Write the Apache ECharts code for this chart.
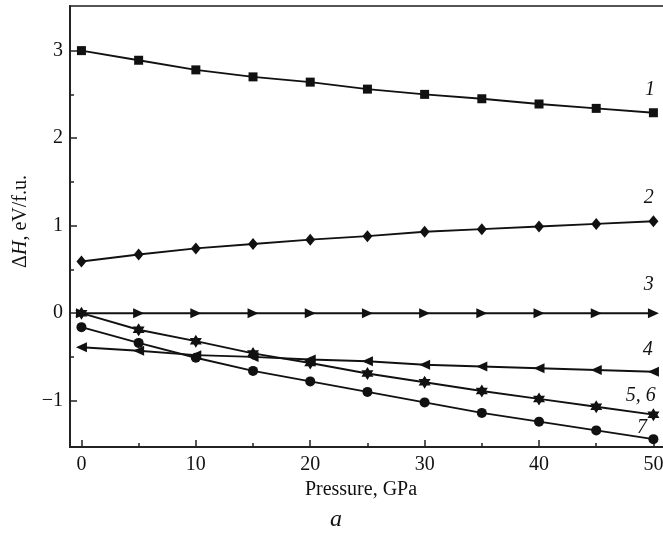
<!DOCTYPE html>
<html>
<head>
<meta charset="utf-8">
<script src="https://cdn.jsdelivr.net/npm/echarts@6/dist/echarts.min.js"></script>
<style>
  html, body { margin: 0; padding: 0; background: #fff; }
  #chart { width: 663px; height: 535px; }
</style>
</head>
<body>
<div id="chart"></div>
<script>
// pressure, GPa
var pressure = [0, 5, 10, 15, 20, 25, 30, 35, 40, 45, 50];

// enthalpy difference, eV/f.u.
var curve1 = [3.00, 2.89, 2.78, 2.70, 2.64, 2.56, 2.50, 2.45, 2.39, 2.34, 2.29];
var curve2 = [0.59, 0.67, 0.74, 0.79, 0.84, 0.88, 0.93, 0.96, 0.99, 1.02, 1.05];
var curve3 = [0, 0, 0, 0, 0, 0, 0, 0, 0, 0, 0];
var curve4 = [-0.39, -0.43, -0.48, -0.50, -0.53, -0.55, -0.59, -0.61, -0.63, -0.65, -0.67];
var curve56 = [0, -0.19, -0.32, -0.46, -0.57, -0.69, -0.79, -0.89, -0.98, -1.07, -1.16];
var curve7 = [-0.16, -0.34, -0.51, -0.66, -0.78, -0.90, -1.02, -1.14, -1.24, -1.34, -1.44];

// tick values
var xMajor = [0, 10, 20, 30, 40, 50];
var xMinor = [5, 15, 25, 35, 45];
var yMajor = [-1, 0, 1, 2, 3];
var yMinor = [-0.5, 0.5, 1.5, 2.5];

// curve numbers and where they sit
var tagText = ['1', '2', '3', '4', '5, 6', '7'];
var tagX = [49.7, 49.6, 49.6, 49.5, 48.9, 49.0];
var tagY = [2.55, 1.32, 0.32, -0.42, -0.94, -1.31];

var serif = "'Liberation Serif', 'DejaVu Serif', serif";
var ink = '#111';

var star = 'path://M0,-10L2.9,-5L8.66,-5L5.8,0L8.66,5L2.9,5L0,10L-2.9,5L-8.66,5L-5.8,0L-8.66,-5L-2.9,-5Z';

function pairs(ys) {
  return ys.map(function (y, i) { return [pressure[i], y]; });
}

function curve(name, ys, symbol, size, rotate) {
  return {
    name: name,
    type: 'line',
    data: pairs(ys),
    symbol: symbol,
    symbolSize: size,
    symbolRotate: rotate || 0,
    showSymbol: true,
    itemStyle: { color: ink },
    lineStyle: { color: ink, width: 2 },
    z: 3
  };
}

var chart = echarts.init(document.getElementById('chart'));

var option = {
  animation: false,
  grid: {
    left: 70,
    right: -3,
    top: 6,
    bottom: 88,
    show: true,
    borderColor: '#555',
    borderWidth: 2,
    outerBoundsMode: 'none'
  },
  xAxis: [
    {
      type: 'value',
      min: -1,
      max: 51.1,
      name: 'Pressure, GPa',
      nameLocation: 'middle',
      nameGap: 33,
      nameTextStyle: { fontFamily: serif, fontSize: 20, color: ink, padding: [0, 14, 0, 0] },
      splitLine: { show: false },
      axisLine: { show: true, onZero: false, lineStyle: { color: '#222', width: 2 } },
      axisTick: { show: true, inside: true, length: 7, customValues: xMajor, lineStyle: { color: '#222', width: 1.5 } },
      axisLabel: { customValues: xMajor, margin: 8, fontFamily: serif, fontSize: 20, color: ink }
    },
    {
      // short ticks
      type: 'value',
      position: 'bottom',
      min: -1,
      max: 51.1,
      splitLine: { show: false },
      axisLine: { show: false, onZero: false },
      axisTick: { show: true, inside: true, length: 4, customValues: xMinor, lineStyle: { color: '#222', width: 1.5 } },
      axisLabel: { show: false }
    }
  ],
  yAxis: [
    {
      type: 'value',
      min: -1.53,
      max: 3.51,
      name: '{n|Δ}{i|H}{n|, eV/f.u.}',
      nameLocation: 'middle',
      nameRotate: 90,
      nameGap: 38,
      nameTextStyle: {
        padding: [0, 0, 0, 10],
        rich: {
          n: { fontFamily: serif, fontSize: 20, color: ink },
          i: { fontFamily: serif, fontSize: 20, color: ink, fontStyle: 'italic' }
        }
      },
      splitLine: { show: false },
      axisLine: { show: true, onZero: false, lineStyle: { color: '#222', width: 2 } },
      axisTick: { show: true, inside: true, length: 7, customValues: yMajor, lineStyle: { color: '#222', width: 1.5 } },
      axisLabel: {
        customValues: yMajor,
        margin: 7,
        fontFamily: serif,
        fontSize: 20,
        color: ink,
        formatter: function (v) { return v < 0 ? '\u2212' + (-v) : String(v); }
      }
    },
    {
      type: 'value',
      position: 'left',
      min: -1.53,
      max: 3.51,
      splitLine: { show: false },
      axisLine: { show: false, onZero: false },
      axisTick: { show: true, inside: true, length: 4, customValues: yMinor, lineStyle: { color: '#222', width: 1.5 } },
      axisLabel: { show: false }
    }
  ],
  series: [
    curve('1', curve1, 'rect', 9),
    curve('2', curve2, 'diamond', [10, 12]),
    curve('3', curve3, 'triangle', [10, 11], -90),
    curve('4', curve4, 'triangle', [10, 11], 90),
    curve('5, 6', curve56, star, [12, 13]),
    curve('7', curve7, 'circle', 10),
    {
      // curve numbers
      name: 'tags',
      type: 'scatter',
      symbolSize: 0,
      silent: true,
      z: 5,
      itemStyle: { opacity: 1 },
      data: tagText.map(function (t, i) { return { name: t, value: [tagX[i], tagY[i]] }; }),
      label: {
        show: true,
        position: 'inside',
        formatter: '{b}',
        fontFamily: serif,
        fontStyle: 'italic',
        fontSize: 20,
        color: ink
      }
    }
  ],
  graphic: [
    {
      type: 'text',
      left: 330,
      top: 508,
      style: { text: 'a', font: 'italic 24px ' + serif, fill: ink }
    }
  ]
};

chart.setOption(option);
</script>
</body>
</html>
